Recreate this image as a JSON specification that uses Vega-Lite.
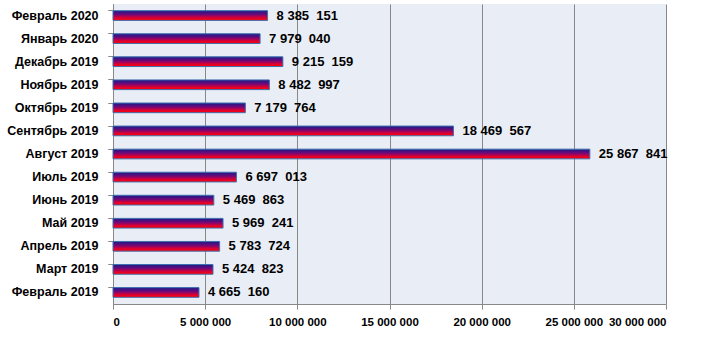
{
  "$schema": "https://vega.github.io/schema/vega-lite/v6.json",
  "width": 553,
  "height": 300,
  "autosize": {"type": "none"},
  "padding": {"left": 113, "top": 4, "right": 51, "bottom": 35},
  "background": "white",
  "config": {
    "locale": {"number": {"decimal": ",", "thousands": " ", "grouping": [3], "currency": ["", ""]}},
    "view": {"fill": "#E9EDF5", "stroke": null},
    "font": "Liberation Sans"
  },
  "data": {
    "values": [
      {"month": "Февраль 2020", "value": 8385151, "label": "8 385\u00a0\u00a0151"},
      {"month": "Январь 2020", "value": 7979040, "label": "7 979\u00a0\u00a0040"},
      {"month": "Декабрь 2019", "value": 9215159, "label": "9 215\u00a0\u00a0159"},
      {"month": "Ноябрь 2019", "value": 8482997, "label": "8 482\u00a0\u00a0997"},
      {"month": "Октябрь 2019", "value": 7179764, "label": "7 179\u00a0\u00a0764"},
      {"month": "Сентябрь 2019", "value": 18469567, "label": "18 469\u00a0\u00a0567"},
      {"month": "Август 2019", "value": 25867841, "label": "25 867\u00a0\u00a0841"},
      {"month": "Июль 2019", "value": 6697013, "label": "6 697\u00a0\u00a0013"},
      {"month": "Июнь 2019", "value": 5469863, "label": "5 469\u00a0\u00a0863"},
      {"month": "Май 2019", "value": 5969241, "label": "5 969\u00a0\u00a0241"},
      {"month": "Апрель 2019", "value": 5783724, "label": "5 783\u00a0\u00a0724"},
      {"month": "Март 2019", "value": 5424823, "label": "5 424\u00a0\u00a0823"},
      {"month": "Февраль 2019", "value": 4665160, "label": "4 665\u00a0\u00a0160"}
    ]
  },
  "encoding": {
    "y": {
      "field": "month", "type": "nominal", "sort": null,
      "scale": {"paddingInner": 0.58, "paddingOuter": 0.29},
      "axis": {
        "orient": "left", "title": null, "domainColor": "#888888", "tickColor": "#888888", "tickSize": 5,
        "bandPosition": 0, "labels": false, "grid": false
      }
    }
  },
  "layer": [
    {
      "mark": {
        "type": "bar",
        "stroke": "#3F6FAF",
        "strokeWidth": 1,
        "color": {
          "gradient": "linear", "x1": 0, "y1": 0, "x2": 0, "y2": 1,
          "stops": [
            {"offset": 0, "color": "#1A1A88"},
            {"offset": 0.4, "color": "#700878"},
            {"offset": 0.75, "color": "#E00030"},
            {"offset": 1, "color": "#FF0000"}
          ]
        }
      },
      "encoding": {
        "x": {
          "field": "value", "type": "quantitative",
          "scale": {"domain": [0, 30000000], "nice": false},
          "axis": {
            "title": null, "values": [0, 5000000, 10000000, 15000000, 20000000, 25000000, 30000000],
            "format": ",d", "grid": true, "gridColor": "#888888", "gridWidth": 1, "gridOpacity": 1,
            "domainColor": "#888888", "tickColor": "#888888", "tickSize": 5,
            "labelFont": "Liberation Sans", "labelFontWeight": "bold", "labelFontSize": 11.5,
            "labelColor": "#000000", "labelPadding": 7
          }
        }
      }
    },
    {
      "mark": {"type": "text", "align": "left", "baseline": "middle", "dx": 9, "fontWeight": "bold", "fontSize": 13, "color": "#000000"},
      "encoding": {
        "x": {"field": "value", "type": "quantitative"},
        "text": {"field": "label"}
      }
    },
    {
      "mark": {"type": "text", "opacity": 0},
      "encoding": {
        "y": {
          "field": "month", "type": "nominal", "sort": null,
          "axis": {
            "orient": "left", "title": null, "domain": false, "ticks": false, "grid": false,
            "labelFont": "Liberation Sans", "labelFontWeight": "bold", "labelFontSize": 12.5,
            "labelColor": "#000000", "labelPadding": 15
          }
        },
        "text": {"field": "label"}
      }
    }
  ],
  "resolve": {"axis": {"y": "independent"}}
}
